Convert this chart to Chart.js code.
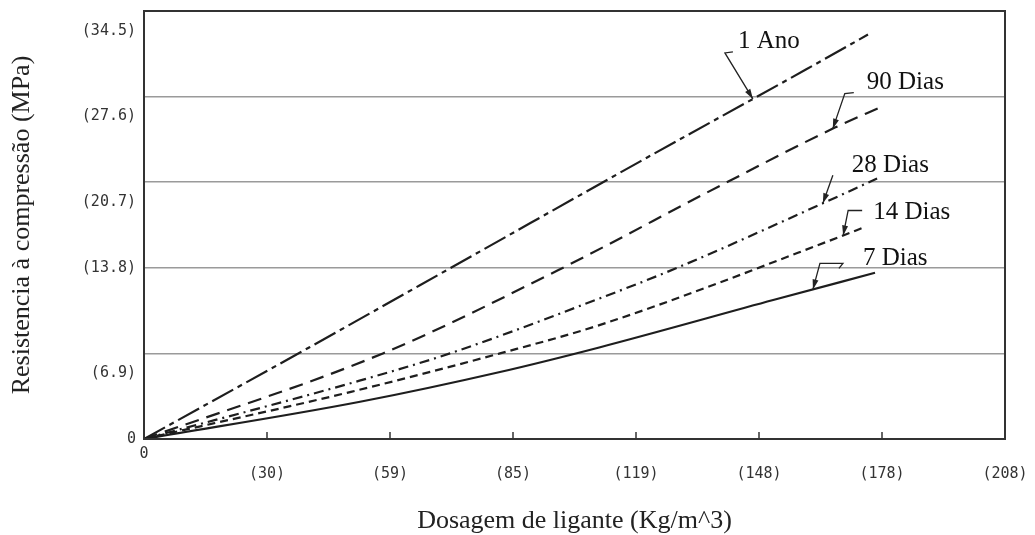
<!DOCTYPE html>
<html><head><meta charset="utf-8">
<script src="https://cdn.jsdelivr.net/npm/chart.js@4.4.1/dist/chart.umd.min.js"></script>
<style>html,body{margin:0;padding:0;background:#fff}#wrap{width:1035px;height:535px;position:relative}</style>
</head><body><div id="wrap"><canvas id="c"></canvas></div>
<script>
// ---- data ----
const xTickLabels = ['0', '(30)', '(59)', '(85)', '(119)', '(148)', '(178)', '(208)'];
const xMax = 208;
const yTickValues = [0, 6.9, 13.8, 20.7, 27.6, 34.5];
const yTickLabels = ['0', '(6.9)', '(13.8)', '(20.7)', '(27.6)', '(34.5)'];
const seriesNames = ['1 Ano', '90 Dias', '28 Dias', '14 Dias', '7 Dias'];

const ano1Dose = [0, 40, 80, 120, 160, 174.9];
const ano1Res  = [0, 7.4, 14.9, 22.4, 29.8, 32.6];
const d90Dose  = [0, 57.7, 100.0, 139.1, 166.9, 178.3];
const d90Res   = [0, 6.9, 13.6, 20.4, 25.1, 26.8];
const d28Dose  = [0, 51.0, 73.9, 110.2, 128.8, 164.0, 177.1];
const d28Res   = [0, 4.6, 6.9, 11.35, 13.8, 19.0, 21.0];
const d14Dose  = [0, 50.0, 86.0, 110.2, 168.1, 174.2];
const d14Res   = [0, 3.8, 6.9, 9.2, 16.3, 17.1];
const d7Dose   = [0, 52.2, 86.0, 110.2, 152.0, 176.6];
const d7Res    = [0, 3.0, 5.4, 7.4, 11.2, 13.4];

const pairs = (xs, ys) => xs.map((v, i) => ({x: v, y: ys[i]}));
const lineColor = '#1e1e1e';
const mk = (label, xs, ys, dash) => ({
  label, data: pairs(xs, ys), borderColor: lineColor, borderWidth: 2.2,
  borderDash: dash, pointRadius: 0, fill: false, cubicInterpolationMode: 'monotone'
});

const framePlugin = {
  id: 'frame',
  afterDatasetsDraw(chart) {
    const {ctx, chartArea: a, scales: {x}} = chart;
    ctx.save();
    ctx.strokeStyle = '#333'; ctx.lineWidth = 2;
    ctx.strokeRect(a.left, a.top, a.right - a.left, a.bottom - a.top);
    ctx.lineWidth = 1.5;
    x.ticks.forEach((t, i) => {
      if (i === 0 || i === x.ticks.length - 1) return;
      const px = x.getPixelForValue(t.value);
      ctx.beginPath(); ctx.moveTo(px, a.bottom); ctx.lineTo(px, a.bottom - 7); ctx.stroke();
    });
    ctx.restore();
  }
};

const calloutPlugin = {
  id: 'callouts',
  afterDatasetsDraw(chart, args, opts) {
    const {ctx, scales: {x, y}} = chart;
    ctx.save();
    opts.items.forEach(it => {
      const pts = chart.data.datasets[it.dataset].data;
      let yv = pts[pts.length - 1].y;
      for (let i = 1; i < pts.length; i++) {
        if (it.at <= pts[i].x) {
          const p0 = pts[i - 1], p1 = pts[i];
          yv = p0.y + (p1.y - p0.y) * (it.at - p0.x) / (p1.x - p0.x);
          break;
        }
      }
      const tx = x.getPixelForValue(it.at), ty = y.getPixelForValue(yv);
      ctx.strokeStyle = '#222'; ctx.lineWidth = 1.3; ctx.setLineDash([]);
      ctx.beginPath(); ctx.moveTo(tx, ty);
      it.path.forEach(([dx, dy]) => ctx.lineTo(tx + dx, ty + dy));
      ctx.stroke();
      const [fx, fy] = it.path[0];
      const ang = Math.atan2(-fy, -fx);
      const L = 10, W = 3;
      ctx.fillStyle = '#222';
      ctx.beginPath(); ctx.moveTo(tx, ty);
      ctx.lineTo(tx - L * Math.cos(ang) + W * Math.sin(ang), ty - L * Math.sin(ang) - W * Math.cos(ang));
      ctx.lineTo(tx - L * Math.cos(ang) - W * Math.sin(ang), ty - L * Math.sin(ang) + W * Math.cos(ang));
      ctx.closePath(); ctx.fill();
      ctx.font = '25px "Liberation Serif"'; ctx.fillStyle = '#111';
      ctx.textAlign = 'left'; ctx.textBaseline = 'middle';
      ctx.fillText(seriesNames[it.dataset], tx + it.dx, ty + it.dy);
    });
    ctx.restore();
  }
};

new Chart(document.getElementById('c'), {
  type: 'line',
  data: {
    datasets: [
      mk(seriesNames[0], ano1Dose, ano1Res, [24, 5, 5, 5]),
      mk(seriesNames[1], d90Dose, d90Res, [14, 8]),
      mk(seriesNames[2], d28Dose, d28Res, [10, 5, 2, 5]),
      mk(seriesNames[3], d14Dose, d14Res, [8, 5]),
      mk(seriesNames[4], d7Dose, d7Res, [])
    ]
  },
  options: {
    responsive: true, maintainAspectRatio: false, animation: false,
    layout: {padding: {left: 0, top: 11, right: 30, bottom: 0}},
    plugins: {
      legend: {display: false}, tooltip: {enabled: false},
      callouts: {items: [
        {dataset: 0, at: 147.1, dx: -15, dy: -57, path: [[-28, -46], [-20, -47]]},
        {dataset: 1, at: 166.4, dx: 34, dy: -46, path: [[12, -35], [21, -36]]},
        {dataset: 2, at: 164.0, dx: 29, dy: -38, path: [[10, -28]]},
        {dataset: 3, at: 168.9, dx: 30, dy: -23, path: [[5, -25], [19, -25]]},
        {dataset: 4, at: 161.6, dx: 50, dy: -31, path: [[7, -26], [30, -26], [26, -21]]}
      ]}
    },
    scales: {
      x: {
        type: 'linear', min: 0, max: xMax,
        afterBuildTicks: s => { s.ticks = xTickLabels.map((_, i) => ({value: i * xMax / (xTickLabels.length - 1)})); },
        afterFit: s => { s.height = 96; s.paddingLeft = 0; s.paddingRight = 0; },
        grid: {display: false, drawTicks: false},
        border: {display: true, color: '#333', width: 2},
        ticks: {
          autoSkip: false, maxRotation: 0, padding: 5, color: '#333',
          font: {family: '"DejaVu Sans Mono"', size: 15, lineHeight: 1.35},
          callback: (v, i) => i === 0 ? xTickLabels[0] : ['', xTickLabels[i]]
        },
        title: {display: true, text: 'Dosagem de ligante (Kg/m^3)', color: '#222',
          font: {family: '"Liberation Serif"', size: 26, lineHeight: 1.0}, padding: {top: 0, bottom: 1}}
      },
      y: {
        type: 'linear', min: 0, max: yTickValues[yTickValues.length - 1],
        afterBuildTicks: s => { s.ticks = yTickValues.map(v => ({value: v})); },
        afterFit: s => { s.width = 144; s.paddingTop = 0; s.paddingBottom = 0; },
        grid: {color: '#9a9a9a', lineWidth: 1.5, drawTicks: false},
        border: {display: true, color: '#333', width: 2},
        ticks: {
          padding: 8, color: '#333',
          font: {family: '"DejaVu Sans Mono"', size: 15, lineHeight: 1.33},
          callback: (v, i) => (i === 0 || i === 2) ? yTickLabels[i] : ['', '', yTickLabels[i]]
        },
        title: {display: true, text: 'Resistencia à compressão (MPa)', color: '#222',
          font: {family: '"Liberation Serif"', size: 26, lineHeight: 1.2}, padding: {top: 7, bottom: 0}}
      }
    }
  },
  plugins: [framePlugin, calloutPlugin]
});
</script></body></html>
